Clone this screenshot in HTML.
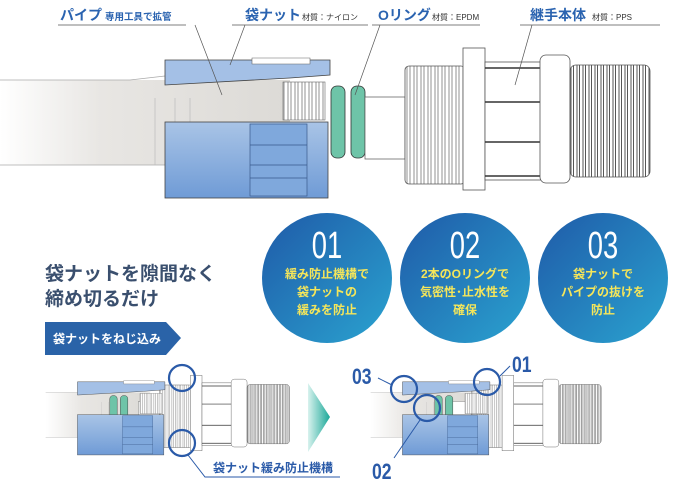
<!DOCTYPE html>
<html><head><meta charset="utf-8"><style>
html,body{margin:0;padding:0;background:#fff;width:678px;height:488px;overflow:hidden}
svg{display:block}
text{font-family:"Liberation Sans","Noto Sans CJK JP",sans-serif}
</style></head><body>
<svg width="678" height="488" viewBox="0 0 678 488" xmlns="http://www.w3.org/2000/svg">
<defs>
<linearGradient id="pipe" x1="0" x2="1" y1="0" y2="0"><stop offset="0" stop-color="#fff"/><stop offset="0.35" stop-color="#e8e6e3"/><stop offset="1" stop-color="#dcdad6"/></linearGradient>
<linearGradient id="nut" x1="0" x2="0" y1="0" y2="1"><stop offset="0" stop-color="#a9c4e6"/><stop offset="1" stop-color="#6f9bd6"/></linearGradient>
<linearGradient id="circ" x1="0" x2="1" y1="0" y2="1"><stop offset="0" stop-color="#1f5aa8"/><stop offset="1" stop-color="#2aa3d0"/></linearGradient>
<linearGradient id="tri" x1="0" x2="1"><stop offset="0" stop-color="#d8f2ee"/><stop offset="1" stop-color="#1aa898"/></linearGradient>
<pattern id="thr" width="7" height="10" patternUnits="userSpaceOnUse"><rect width="7" height="10" fill="#fff"/><path d="M1 0V10M4 0V10" stroke="#777" stroke-width="0.8"/></pattern>
<pattern id="thrd" width="6" height="6" patternUnits="userSpaceOnUse"><rect width="6" height="6" fill="#fff"/><path d="M1 0V6M3.5 0V6" stroke="#444" stroke-width="0.9"/></pattern>
<g id="pipeg">
 <rect x="0" y="80" width="290" height="85" fill="url(#pipe)"/>
 <path d="M0 80 L130 80 L165 76 L290 74" fill="none" stroke="#aaa" stroke-width="0.8"/>
 <path d="M0 165 H290" stroke="#aaa" stroke-width="0.8"/>
 <path d="M155 98V165 M175 98V165 M190 98V165" stroke="#bbb" stroke-width="0.7"/>
</g>
<g id="nutg">
 <path d="M165 60 L330 60 L330 75 L290 78 L165 85 Z" fill="#a4c0e6" stroke="#444" stroke-width="0.8"/>
 <path d="M252 58 H310 V64 H252Z" fill="#fff" stroke="#666" stroke-width="0.6"/>
 <rect x="283" y="82" width="42" height="38" fill="url(#thr)" stroke="#666" stroke-width="0.6"/>
 <rect x="165" y="122" width="163" height="76" fill="url(#nut)" stroke="#444" stroke-width="0.8"/>
 <rect x="250" y="124" width="57" height="72" fill="#7fa8dc" stroke="#3a5a8a" stroke-width="0.7"/>
 <path d="M250 145H307M250 165H307M250 178H307" stroke="#3a5a8a" stroke-width="0.7"/>
</g>
<g id="oring">
 <rect x="331" y="86" width="14" height="72" rx="6" fill="#6ec4a8" stroke="#333" stroke-width="0.8"/>
 <rect x="351" y="86" width="14" height="72" rx="6" fill="#6ec4a8" stroke="#333" stroke-width="0.8"/>
</g>
<g id="bodyg">
 <rect x="365" y="97" width="40" height="62" fill="#fff" stroke="#555" stroke-width="0.7"/>
 <rect x="405" y="66" width="60" height="118" rx="4" fill="url(#thr)" stroke="#555" stroke-width="0.8"/>
 <rect x="463" y="48" width="22" height="142" fill="#fff" stroke="#555" stroke-width="0.8"/>
 <rect x="485" y="62" width="60" height="118" fill="#fff" stroke="#555" stroke-width="0.8"/>
 <path d="M485 68H545M485 102H545M485 142H545M485 176H545" stroke="#333" stroke-width="1.4"/>
 <rect x="540" y="55" width="30" height="128" rx="6" fill="#fff" stroke="#555" stroke-width="0.8"/>
 <rect x="570" y="65" width="80" height="112" rx="6" fill="url(#thrd)" stroke="#555" stroke-width="0.8"/>
</g>
<g id="asmL">
 <use href="#pipeg" transform="translate(105,0) scale(0.68,1)"/>
 <use href="#bodyg" transform="translate(-85,0)"/>
 <use href="#oring" transform="translate(-105,0)"/>
 <use href="#nutg"/>
</g>
<g id="asmR">
 <use href="#pipeg" transform="translate(105,0) scale(0.68,1)"/>
 <use href="#bodyg" transform="translate(-110,0)"/>
 <use href="#oring" transform="translate(-105,0)"/>
 <use href="#nutg"/>
</g>
<clipPath id="cl1"><rect x="45" y="340" width="260" height="130"/></clipPath>
<clipPath id="cl2"><rect x="350" y="340" width="260" height="130"/></clipPath>
</defs>

<use href="#pipeg"/>
<use href="#nutg"/>
<use href="#oring"/>
<use href="#bodyg"/>

<g fill="#2a63b0" font-weight="bold">
<text x="60" y="20" font-size="14">パイプ<tspan font-size="9.5" dx="3">専用工具で拡管</tspan></text>
<text x="245" y="20" font-size="14">袋ナット</text>
<text x="378" y="20" font-size="14">Oリング</text>
<text x="530" y="20" font-size="14">継手本体</text>
</g>
<g fill="#333" font-size="8">
<text x="302" y="20">材質：ナイロン</text>
<text x="432" y="20">材質：EPDM</text>
<text x="592" y="20">材質：PPS</text>
</g>
<g stroke="#555" stroke-width="0.7" fill="none">
<path d="M58 25H186 M195 25 L222 95"/>
<path d="M232 25H368 M245 25 L230 65"/>
<path d="M372 25H480 M380 25 L355 95"/>
<path d="M520 25H660 M532 25 L515 85"/>
</g>

<ellipse cx="327" cy="278" rx="65" ry="65" fill="url(#circ)"/>
<ellipse cx="465" cy="278" rx="65" ry="65" fill="url(#circ)"/>
<ellipse cx="603" cy="278" rx="65" ry="65" fill="url(#circ)"/>
<g fill="#fff" font-size="38" text-anchor="middle">
<text transform="translate(327,258) scale(0.72,1)">01</text>
<text transform="translate(465,258) scale(0.72,1)">02</text>
<text transform="translate(603,258) scale(0.72,1)">03</text>
</g>
<g fill="#f5e65a" font-size="12" font-weight="bold" text-anchor="middle">
<text x="327" y="278">緩み防止機構で</text><text x="327" y="296">袋ナットの</text><text x="327" y="314">緩みを防止</text>
<text x="465" y="278">2本のOリングで</text><text x="465" y="296">気密性･止水性を</text><text x="465" y="314">確保</text>
<text x="603" y="278">袋ナットで</text><text x="603" y="296">パイプの抜けを</text><text x="603" y="314">防止</text>
</g>

<text x="45" y="280" font-size="19" font-weight="bold" fill="#3a4f6e">袋ナットを隙間なく</text>
<text x="45" y="305" font-size="19" font-weight="bold" fill="#3a4f6e">締め切るだけ</text>
<path d="M45 322 H166 L181 338 L166 355 H45Z" fill="#2a63a8"/>
<text x="53" y="343" font-size="12" font-weight="bold" fill="#fff">袋ナットをねじ込み</text>

<g clip-path="url(#cl1)"><g transform="translate(-10,350) scale(0.53)"><use href="#asmL"/></g></g>
<path d="M308 383 L330 417 L308 452Z" fill="url(#tri)"/>
<g clip-path="url(#cl2)"><g transform="translate(315,350) scale(0.53)"><use href="#asmR"/></g></g>

<g fill="none" stroke="#2a5aa8" stroke-width="2.2">
<circle cx="182" cy="378" r="13"/>
<circle cx="182" cy="443" r="13"/>
<circle cx="404" cy="389" r="13"/>
<circle cx="427" cy="408" r="13"/>
<circle cx="487" cy="382" r="13"/>
</g>
<g stroke="#2a5aa8" stroke-width="1" fill="none">
<path d="M188 455 L205 477 H340"/>
<path d="M378 378 L392 385"/>
<path d="M420 420 L394 458"/>
<path d="M500 376 L510 366"/>
</g>
<text x="213" y="472" font-size="12" font-weight="bold" fill="#2a5aa8">袋ナット緩み防止機構</text>
<g fill="#2a5aa8" font-size="22" font-weight="bold">
<text transform="translate(352,384) scale(0.8,1)">03</text>
<text transform="translate(512,372) scale(0.8,1)">01</text>
<text transform="translate(372,479) scale(0.8,1)">02</text>
</g>
</svg>
</body></html>
